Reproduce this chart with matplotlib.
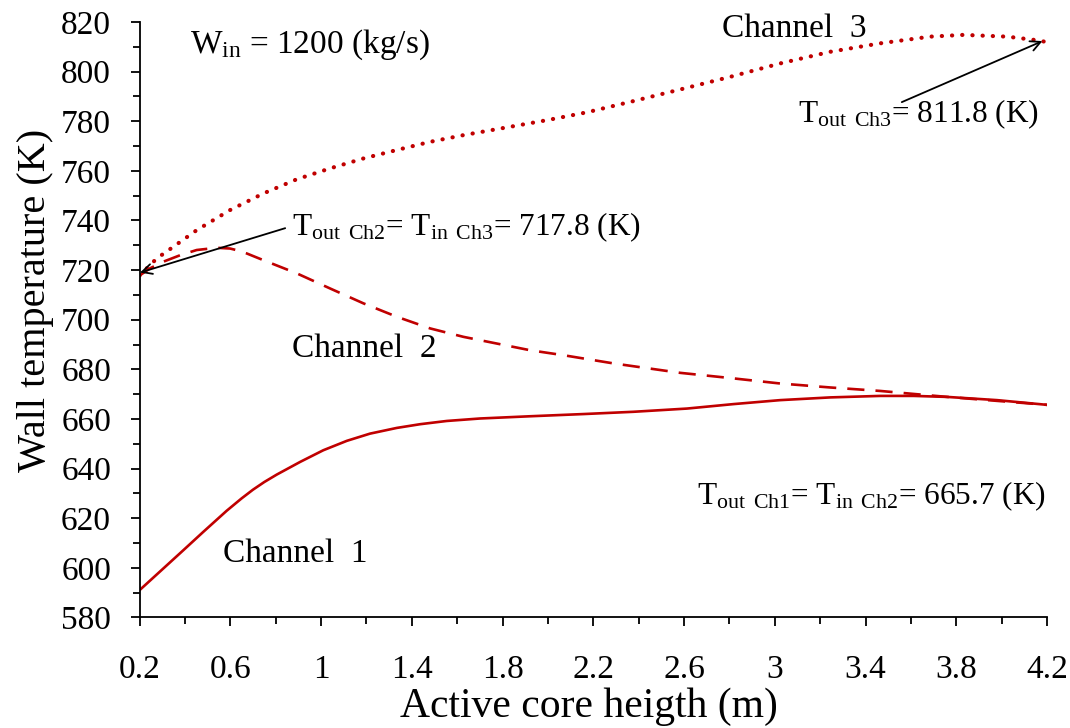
import numpy as np
import matplotlib
matplotlib.use('Agg')
import matplotlib.pyplot as plt
from matplotlib.ticker import MultipleLocator

##Fonts##
plt.rcParams['font.family'] = ['Liberation Serif', 'DejaVu Serif']
plt.rcParams['mathtext.fontset'] = 'custom'
plt.rcParams['mathtext.rm'] = 'Liberation Serif'
plt.rcParams['mathtext.it'] = 'Liberation Serif:italic'

##Data##
# Channel 1 (solid)
x_ch1 = [0.2, 0.393, 0.481, 0.584, 0.65, 0.7, 0.75, 0.805, 0.908, 1.01, 1.114, 1.216, 1.334, 1.437,
         1.554, 1.701, 1.922, 2.16, 2.377, 2.613, 2.818, 3.024, 3.245, 3.465, 3.612, 3.759,
         3.98, 4.2]
t_ch1 = [591.0, 607.1, 614.5, 623.0, 628.0, 631.5, 634.6, 637.6, 642.7, 647.4, 651.2, 654.1, 656.4, 657.9,
         659.2, 660.2, 661.1, 662.0, 662.9, 664.2, 666.0, 667.6, 668.7, 669.3, 669.3, 668.9,
         667.6, 665.7]
# Channel 2 (dashed)
x_ch2 = [0.2, 0.246, 0.305, 0.379, 0.452, 0.54, 0.599, 0.63, 0.673, 0.746, 0.893, 1.04, 1.187,
         1.334, 1.481, 1.628, 1.775, 1.922, 2.069, 2.289, 2.583, 2.804, 3.024, 3.245, 3.465,
         3.759, 3.98, 4.2]
t_ch2 = [717.8, 720.7, 723.4, 726.0, 728.1, 729.0, 728.7, 728.0, 726.7, 724.0, 718.7, 712.6, 706.6,
         701.2, 696.5, 693.1, 690.4, 687.7, 685.7, 682.4, 678.6, 676.5, 674.3, 672.7, 671.3,
         668.9, 667.3, 665.7]
# Channel 3 (dotted)
x_ch3 = [0.2, 0.276, 0.349, 0.452, 0.599, 0.746, 0.893, 1.04, 1.187, 1.334, 1.481, 1.628,
         1.848, 2.0, 2.172, 2.363, 2.583, 2.804, 3.024, 3.245, 3.465, 3.685, 3.832, 4.024, 4.17, 4.2]
t_ch3 = [717.8, 724.7, 729.4, 736.1, 744.2, 750.9, 756.6, 761.0, 765.0, 768.4, 771.7, 774.4,
         778.0, 780.5, 783.6, 787.8, 792.8, 797.9, 803.3, 808.0, 811.4, 814.1, 814.8, 814.1, 812.5, 811.8]

x_ticks = ['0.2', '0.6', '1', '1.4', '1.8', '2.2', '2.6', '3', '3.4', '3.8', '4.2']

red = '#C00000'

fig = plt.figure(figsize=(10.70, 7.28), dpi=100)
ax = fig.add_axes([0.1304, 0.1518, 0.8481, 0.8180])

ax.plot(x_ch1, t_ch1, color=red, lw=1.9, solid_joinstyle='round')
ax.plot(x_ch2, t_ch2, color=red, lw=1.9, linestyle=(0, (6.5, 4.2)), dash_joinstyle='round')
ax.plot(x_ch3, t_ch3, color=red, lw=3.0, linestyle=(0, (0.05, 2.4)), dash_capstyle='round')

ax.set_xlim(0.2, 4.2)
ax.set_ylim(580, 820)
ax.xaxis.set_minor_locator(MultipleLocator(0.2))
ax.yaxis.set_major_locator(MultipleLocator(20))
ax.yaxis.set_minor_locator(MultipleLocator(10))
ax.set_xticks(np.arange(0.2, 4.21, 0.4))
ax.set_xticklabels(x_ticks)

for s in ['top', 'right']:
    ax.spines[s].set_visible(False)
for s in ['left', 'bottom']:
    ax.spines[s].set_linewidth(1.3)

ax.tick_params(axis='both', which='major', direction='out', length=6.5, width=1.3, labelsize=24)
ax.tick_params(axis='both', which='minor', direction='out', length=5, width=1.3)
ax.tick_params(axis='x', which='major', pad=20)
ax.tick_params(axis='y', which='major', pad=14)

ax.set_xlabel('Active core heigth (m)', fontsize=30)
ax.set_ylabel('Wall temperature (K)', fontsize=29)
ax.xaxis.set_label_coords(0.495, -0.117)
ax.yaxis.set_label_coords(-0.094, 0.533)

# text labels
ax.text(0.423, 807.5, r'W$_{\rm in}$ = 1200 (kg/s)', fontsize=24)
ax.text(2.768, 814, 'Channel  3', fontsize=24)
ax.text(0.872, 684.9, 'Channel  2', fontsize=24)
ax.text(0.568, 602.3, 'Channel  1', fontsize=24)

fs = 22.5
arrow = dict(arrowstyle='->', color='black', lw=1.3, shrinkA=0, shrinkB=0, mutation_scale=18)
ax.annotate('', xy=(4.18, 812.3), xytext=(3.56, 787.7), arrowprops=arrow)
ax.text(3.103, 779.7, r'T$_{\rm out}$ $_{\rm Ch3}$= 811.8 (K)', fontsize=fs)

ax.annotate('', xy=(0.202, 719.0), xytext=(0.842, 736.9), arrowprops=arrow)
ax.text(0.872, 734.1, r'T$_{\rm out}$ $_{\rm Ch2}$= T$_{\rm in}$ $_{\rm Ch3}$= 717.8 (K)', fontsize=fs)

ax.annotate('', xy=(4.205, 667.2), xytext=(3.972, 636.5), arrowprops=arrow)
ax.text(2.658, 625.6, r'T$_{\rm out}$ $_{\rm Ch1}$= T$_{\rm in}$ $_{\rm Ch2}$= 665.7 (K)', fontsize=fs)

fig.savefig('out.png', dpi=100)
